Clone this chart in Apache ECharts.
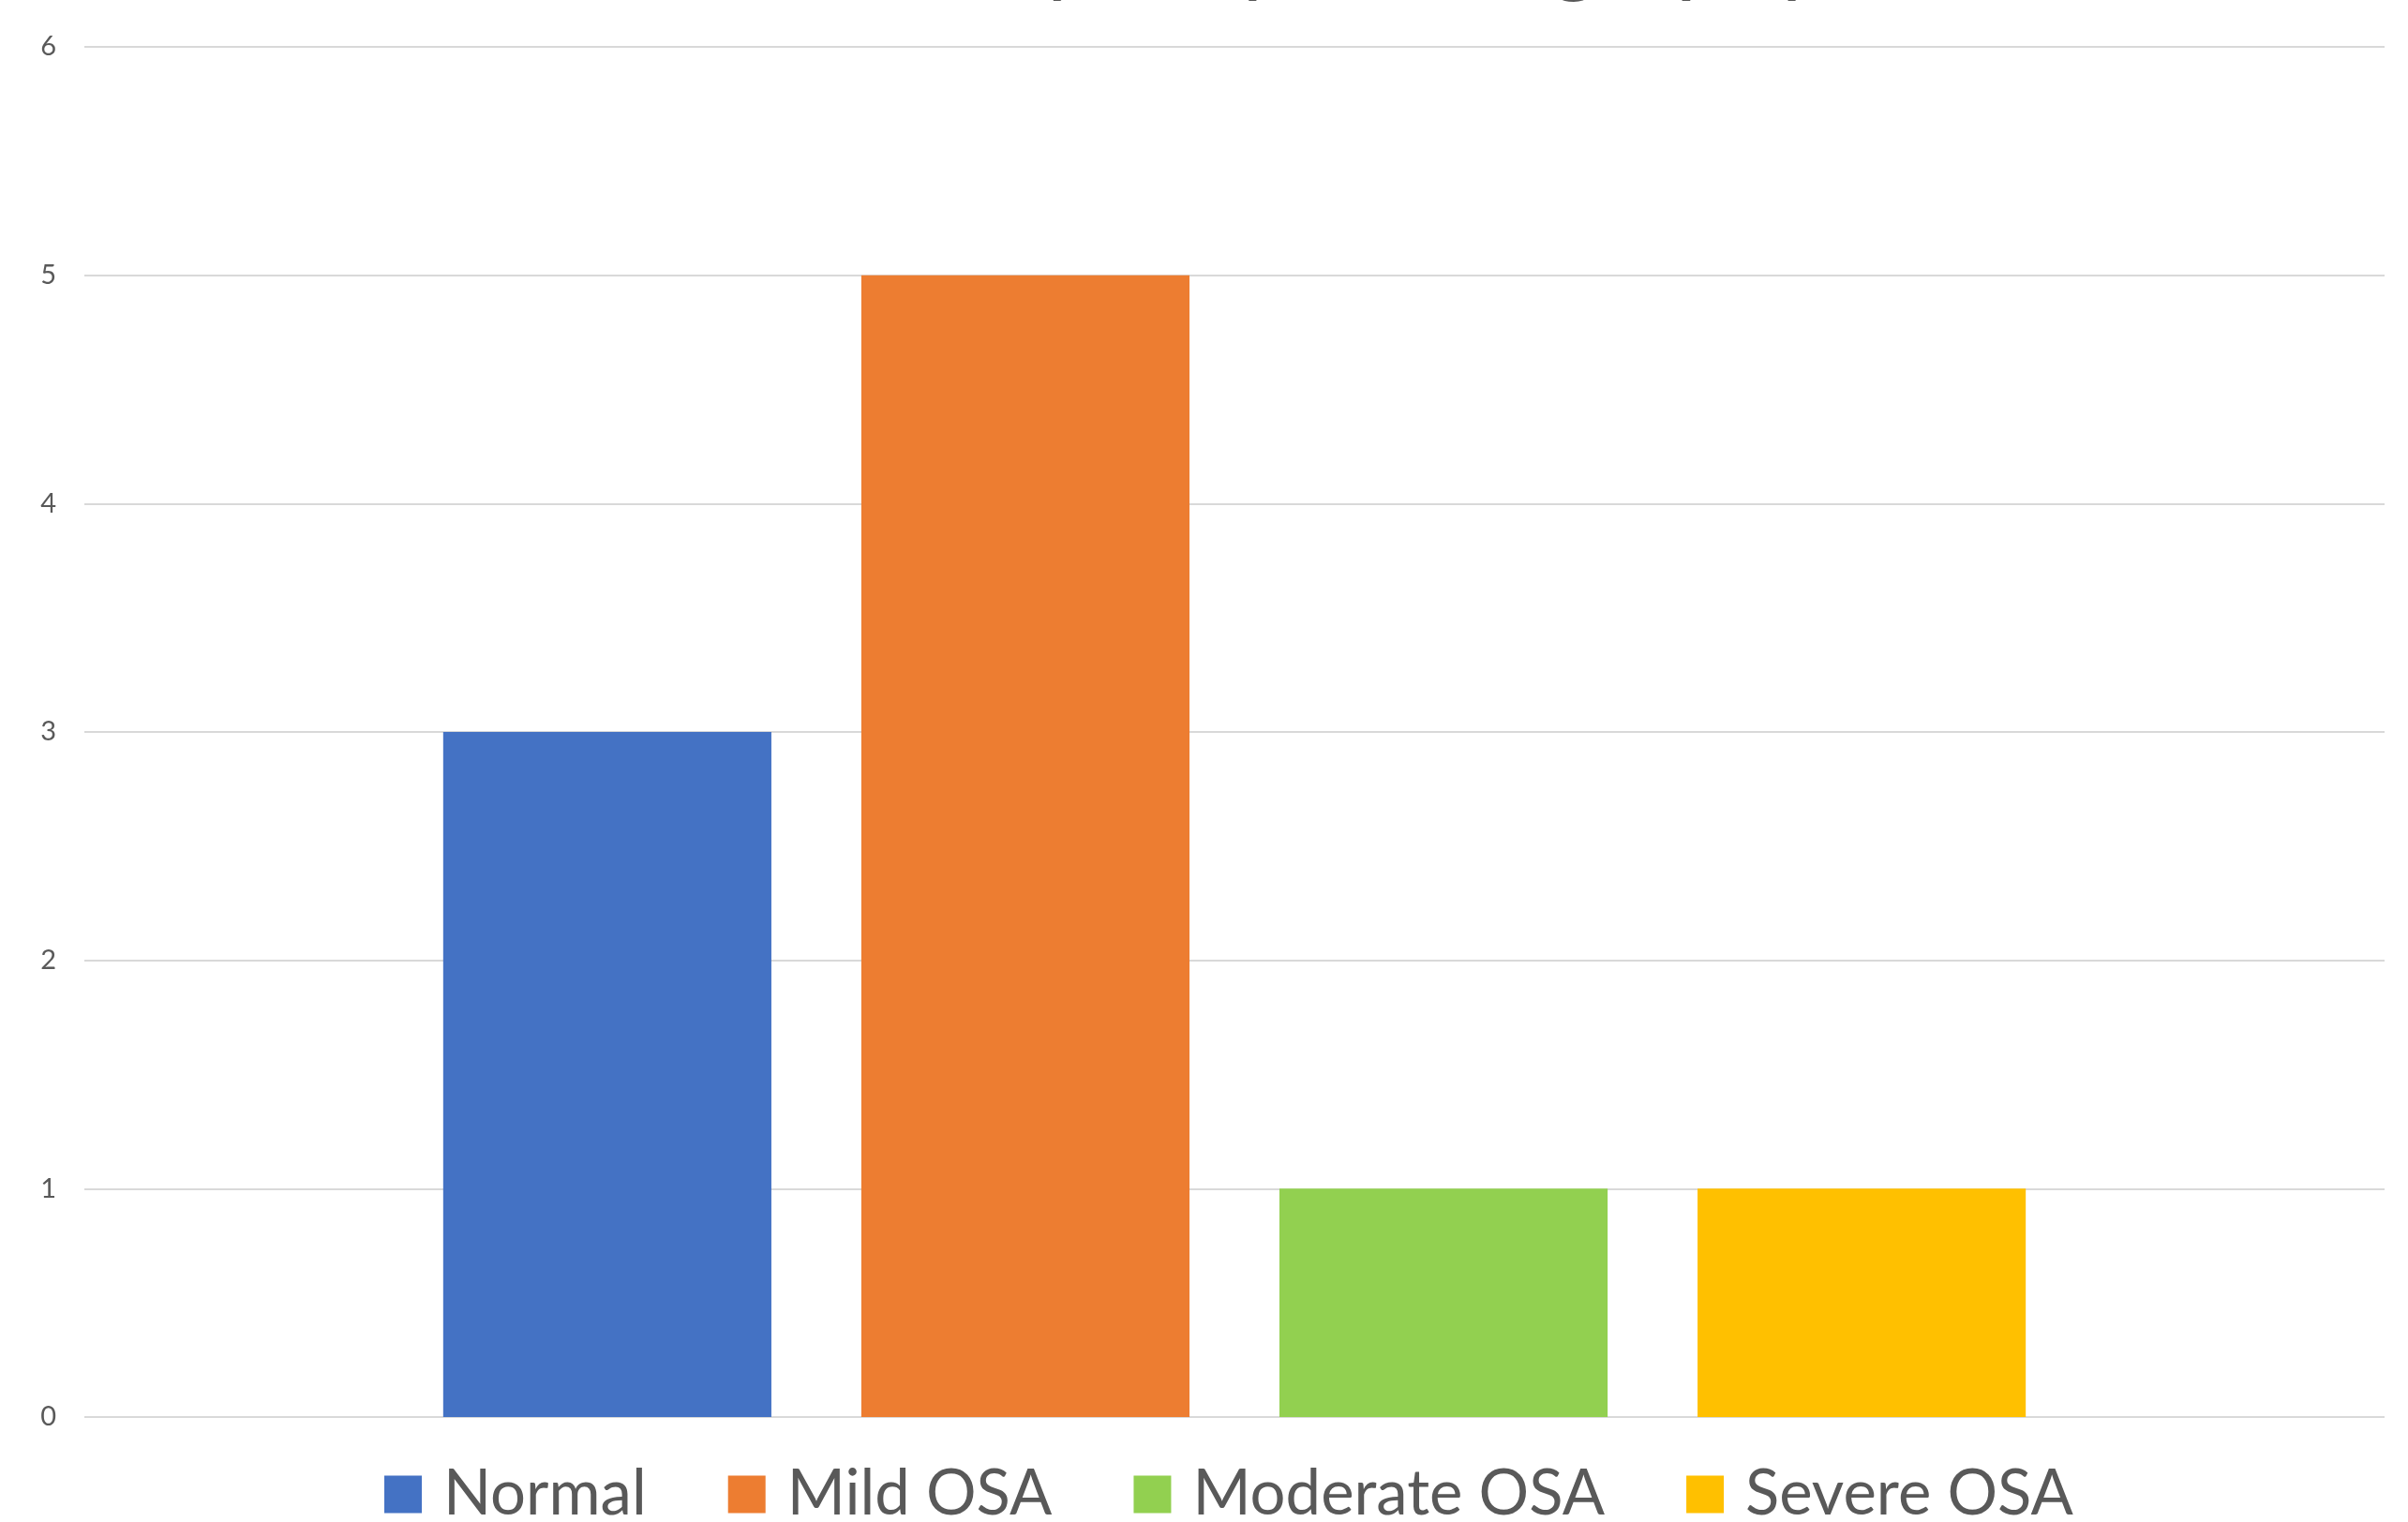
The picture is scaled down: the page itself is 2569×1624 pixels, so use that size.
<!DOCTYPE html>
<html>
<head>
<meta charset="utf-8">
<title>Results by Polysomnography</title>
<script src="https://cdn.jsdelivr.net/npm/echarts@6/dist/echarts.min.js"></script>
<style>
  html, body { margin: 0; padding: 0; background: #ffffff; }
  #chart { width: 2569px; height: 1624px; }
</style>
</head>
<body>
<div id="chart"></div>
<script>
// Patient counts per severity group
const titleText = 'Results by Polysomnography';
const categories = ['Patients'];
const seriesNames = ['Normal', 'Mild OSA', 'Moderate OSA', 'Severe OSA'];
const seriesValues = [3, 5, 1, 1];
const seriesColors = ['#4472C4', '#ED7D31', '#92D050', '#FFC000'];
const yTicks = { min: 0, max: 6, interval: 1 };

const textColor = '#595959';
const fontFamily = 'Lato, "Open Sans", sans-serif';

const chart = echarts.init(document.getElementById('chart'), null, { renderer: 'canvas' });

const series = seriesNames.map((name, i) => ({
  name: name,
  type: 'bar',
  data: [seriesValues[i]],
  itemStyle: { color: seriesColors[i] },
  barGap: '27.4%',
  barCategoryGap: '31.2%',
  animation: false
}));

chart.setOption({
  backgroundColor: '#ffffff',
  animation: false,
  title: {
    text: titleText,
    right: 624,
    top: -96,
    padding: 0,
    textStyle: {
      fontFamily: fontFamily,
      fontSize: 97,
      fontWeight: 'normal',
      color: textColor
    }
  },
  grid: {
    left: 90,
    right: 25,
    top: 50,
    bottom: 112,
    containLabel: false
  },
  legend: {
    data: seriesNames,
    left: 410,
    top: 1561,
    padding: 0,
    itemWidth: 40,
    itemHeight: 40,
    itemGap: 87,
    icon: 'rect',
    textStyle: {
      fontFamily: fontFamily,
      fontSize: 67,
      color: textColor,
      padding: [0, 0, 0, 18]
    }
  },
  xAxis: {
    type: 'category',
    data: categories,
    axisLine: { show: false },
    axisTick: { show: false },
    axisLabel: { show: false },
    splitLine: { show: false }
  },
  yAxis: {
    type: 'value',
    min: yTicks.min,
    max: yTicks.max,
    interval: yTicks.interval,
    axisLine: { show: false },
    axisTick: { show: false },
    axisLabel: {
      margin: 30,
      fontFamily: fontFamily,
      fontSize: 29,
      color: textColor
    },
    splitLine: { lineStyle: { color: '#D9D9D9', width: 2 } }
  },
  series: series
});
</script>
</body>
</html>
